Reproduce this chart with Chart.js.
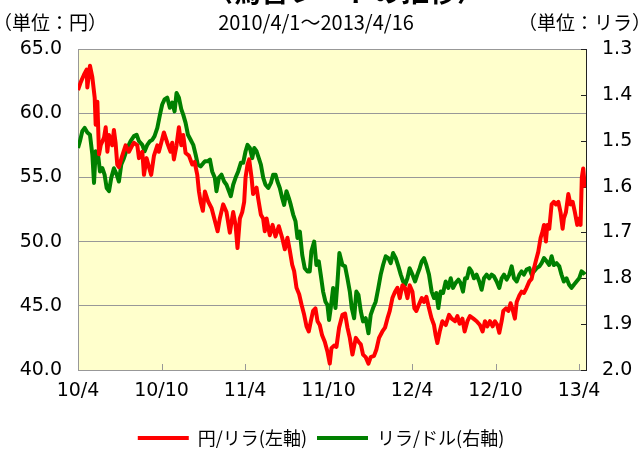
<!DOCTYPE html>
<html lang="ja">
<head>
<meta charset="utf-8">
<title>為替レートの推移</title>
<script src="https://cdn.jsdelivr.net/npm/chart.js@4.4.1/dist/chart.umd.min.js"></script>
<style>
  body { margin: 0; background: #fff; }
  #wrap { width: 642px; height: 450px; }
</style>
</head>
<body>
<div id="wrap"><canvas id="rateChart" width="642" height="450"></canvas></div>
<script>
// x values are months counted from 2010/4/1
const xTickMonths = [0, 6, 12, 18, 24, 30, 36];
const xTickLabels = ['10/4', '10/10', '11/4', '11/10', '12/4', '12/10', '13/4'];

// 円/リラ (left axis)
const yenMonths = [
  0.00, 0.19, 0.43, 0.62, 0.67, 0.86, 1.03, 1.20, 1.27, 1.39, 1.51, 1.63, 1.87, 1.99, 2.11, 2.23,
  2.46, 2.58, 2.70, 2.82, 2.94, 3.18, 3.42, 3.66, 3.90, 4.02, 4.26, 4.38, 4.62, 4.74, 4.93, 5.10,
  5.26, 5.46, 5.70, 5.81, 5.98, 6.17, 6.41, 6.65, 6.77, 6.89, 7.08, 7.25, 7.42, 7.56, 7.73, 7.97,
  8.21, 8.38, 8.57, 8.69, 8.81, 8.97, 9.12, 9.36, 9.60, 10.03, 10.19, 10.43, 10.67, 10.91, 11.15, 11.32,
  11.46, 11.63, 11.80, 11.94, 12.04, 12.18, 12.30, 12.47, 12.58, 12.83, 12.94, 13.14, 13.30, 13.42, 13.55, 13.78,
  13.98, 14.19, 14.43, 14.67, 14.86, 15.05, 15.22, 15.39, 15.53, 15.70, 15.89, 16.06, 16.25, 16.42, 16.58, 16.73,
  16.89, 17.06, 17.21, 17.37, 17.54, 17.73, 17.93, 18.09, 18.21, 18.40, 18.57, 18.76, 19.00, 19.19, 19.36, 19.53,
  19.72, 19.96, 20.15, 20.32, 20.48, 20.67, 20.87, 21.03, 21.27, 21.44, 21.63, 21.87, 22.06, 22.23, 22.40, 22.59,
  22.78, 22.95, 23.12, 23.31, 23.50, 23.67, 23.83, 24.03, 24.17, 24.31, 24.50, 24.70, 24.86, 25.03, 25.22, 25.41,
  25.58, 25.70, 25.82, 25.99, 26.18, 26.42, 26.66, 26.85, 27.09, 27.26, 27.42, 27.62, 27.78, 27.98, 28.16, 28.41,
  28.64, 28.88, 29.07, 29.24, 29.41, 29.60, 29.79, 29.96, 30.13, 30.27, 30.44, 30.56, 30.75, 30.92, 31.08, 31.23,
  31.39, 31.52, 31.71, 31.87, 32.04, 32.23, 32.43, 32.59, 32.71, 32.90, 33.07, 33.24, 33.38, 33.48, 33.62, 33.72,
  33.86, 34.03, 34.19, 34.34, 34.51, 34.67, 34.82, 34.91, 35.06, 35.23, 35.39, 35.54, 35.70, 35.87, 36.01, 36.11,
  36.20, 36.30, 36.42
];
const yenValues = [
  61.8, 62.4, 63.0, 63.4, 62.0, 63.7, 62.8, 61.2, 59.1, 60.9, 56.8, 57.5, 58.1, 58.9, 57.0, 58.3,
  57.5, 58.7, 57.7, 56.0, 55.8, 56.7, 57.5, 57.0, 57.5, 57.7, 57.5, 56.5, 57.0, 55.2, 56.5, 55.8,
  55.2, 56.7, 57.5, 57.0, 57.7, 58.5, 57.7, 57.0, 57.7, 56.4, 57.5, 58.9, 57.5, 58.3, 56.9, 56.7,
  56.0, 56.2, 55.2, 53.9, 53.1, 52.4, 53.9, 53.1, 52.6, 50.8, 51.8, 52.9, 52.3, 50.7, 52.3, 51.3,
  49.5, 51.8, 52.3, 53.1, 55.0, 56.0, 56.4, 55.0, 53.7, 54.2, 53.4, 52.1, 51.8, 50.8, 51.8, 50.5,
  51.3, 50.4, 51.2, 50.3, 49.4, 50.3, 49.3, 48.2, 47.7, 46.4, 45.9, 45.1, 44.3, 43.4, 43.0, 43.8,
  44.6, 44.8, 43.8, 43.5, 42.7, 42.2, 41.4, 40.5, 41.7, 41.9, 41.8, 43.3, 44.3, 44.4, 43.3, 42.5,
  41.2, 42.5, 42.2, 42.0, 41.2, 41.0, 40.5, 41.0, 41.1, 41.6, 42.5, 43.0, 43.3, 44.0, 44.6, 45.6,
  46.1, 46.4, 45.6, 46.6, 46.4, 45.6, 46.6, 46.1, 44.8, 44.6, 45.1, 45.6, 45.3, 45.7, 44.8, 44.0,
  43.5, 42.7, 42.1, 43.0, 43.8, 43.5, 44.3, 44.0, 43.8, 44.2, 43.6, 44.0, 43.0, 43.8, 44.2, 44.0,
  43.8, 43.5, 43.0, 43.8, 43.4, 43.8, 43.4, 43.8, 43.5, 42.9, 43.8, 44.6, 44.8, 44.6, 45.2, 44.7,
  44.0, 45.3, 45.8, 46.1, 46.0, 46.4, 46.9, 47.1, 47.7, 48.5, 49.2, 50.3, 50.8, 51.3, 50.0, 51.3,
  51.0, 52.9, 53.1, 52.9, 53.1, 52.3, 51.0, 51.8, 52.3, 53.7, 52.9, 53.1, 52.3, 51.3, 51.8, 51.3,
  55.0, 55.7, 54.2
];

// リラ/ドル (right axis, reversed)
const liraMonths = [
  0.00, 0.14, 0.31, 0.48, 0.67, 0.86, 1.03, 1.15, 1.27, 1.44, 1.58, 1.75, 1.91, 2.06, 2.23, 2.39,
  2.58, 2.78, 2.94, 3.11, 3.30, 3.54, 3.78, 4.02, 4.21, 4.38, 4.62, 4.79, 4.98, 5.17, 5.34, 5.50,
  5.70, 5.89, 6.05, 6.22, 6.41, 6.60, 6.77, 6.94, 7.08, 7.25, 7.42, 7.56, 7.73, 7.90, 8.09, 8.28,
  8.45, 8.61, 8.81, 9.00, 9.12, 9.31, 9.48, 9.64, 9.83, 9.95, 10.12, 10.31, 10.50, 10.67, 10.84, 10.98,
  11.15, 11.32, 11.51, 11.70, 11.87, 12.04, 12.18, 12.35, 12.52, 12.66, 12.83, 12.99, 13.14, 13.31, 13.47, 13.67,
  13.86, 14.02, 14.19, 14.33, 14.50, 14.67, 14.81, 14.98, 15.15, 15.29, 15.46, 15.63, 15.77, 15.94, 16.11, 16.29,
  16.49, 16.65, 16.77, 16.97, 17.13, 17.30, 17.44, 17.61, 17.78, 17.92, 18.04, 18.16, 18.33, 18.50, 18.64, 18.78,
  19.00, 19.19, 19.36, 19.53, 19.67, 19.84, 20.00, 20.15, 20.32, 20.48, 20.67, 20.87, 21.03, 21.20, 21.39, 21.58,
  21.75, 21.92, 22.11, 22.30, 22.47, 22.64, 22.83, 23.02, 23.19, 23.36, 23.50, 23.67, 23.83, 24.03, 24.22, 24.38,
  24.55, 24.70, 24.86, 25.03, 25.22, 25.41, 25.58, 25.75, 25.89, 26.06, 26.23, 26.42, 26.61, 26.78, 26.95, 27.14,
  27.33, 27.49, 27.66, 27.81, 27.95, 28.12, 28.28, 28.45, 28.64, 28.83, 29.00, 29.17, 29.36, 29.55, 29.72, 29.89,
  30.08, 30.27, 30.44, 30.61, 30.80, 30.99, 31.16, 31.33, 31.52, 31.71, 31.87, 32.04, 32.23, 32.43, 32.59, 32.76,
  32.95, 33.15, 33.31, 33.48, 33.67, 33.86, 34.03, 34.19, 34.39, 34.58, 34.74, 34.91, 35.10, 35.29, 35.46, 35.63,
  35.82, 36.01, 36.18, 36.35, 36.42
];
const liraValues = [
  1.516, 1.501, 1.479, 1.472, 1.482, 1.487, 1.530, 1.592, 1.523, 1.530, 1.567, 1.560, 1.574, 1.603, 1.610, 1.581,
  1.560, 1.574, 1.589, 1.552, 1.538, 1.516, 1.501, 1.490, 1.487, 1.501, 1.509, 1.523, 1.509, 1.501, 1.498, 1.490,
  1.472, 1.443, 1.421, 1.410, 1.406, 1.428, 1.417, 1.436, 1.396, 1.406, 1.431, 1.443, 1.461, 1.487, 1.498, 1.509,
  1.530, 1.552, 1.556, 1.549, 1.545, 1.545, 1.541, 1.567, 1.581, 1.610, 1.581, 1.574, 1.589, 1.596, 1.610, 1.621,
  1.596, 1.581, 1.567, 1.548, 1.548, 1.523, 1.509, 1.516, 1.538, 1.516, 1.523, 1.538, 1.552, 1.581, 1.596, 1.603,
  1.592, 1.574, 1.574, 1.589, 1.603, 1.625, 1.640, 1.610, 1.625, 1.640, 1.661, 1.676, 1.712, 1.698, 1.749, 1.778,
  1.785, 1.785, 1.741, 1.720, 1.771, 1.763, 1.792, 1.829, 1.851, 1.858, 1.891, 1.865, 1.821, 1.865, 1.810, 1.745,
  1.771, 1.774, 1.800, 1.829, 1.865, 1.887, 1.829, 1.836, 1.872, 1.894, 1.887, 1.920, 1.880, 1.865, 1.851, 1.821,
  1.792, 1.771, 1.752, 1.756, 1.767, 1.745, 1.756, 1.774, 1.792, 1.807, 1.814, 1.800, 1.778, 1.792, 1.807, 1.792,
  1.778, 1.763, 1.756, 1.771, 1.792, 1.829, 1.843, 1.832, 1.865, 1.829, 1.832, 1.807, 1.821, 1.800, 1.821, 1.810,
  1.803, 1.810, 1.829, 1.800, 1.800, 1.778, 1.785, 1.800, 1.792, 1.807, 1.825, 1.800, 1.792, 1.800, 1.792, 1.796,
  1.807, 1.821, 1.800, 1.792, 1.803, 1.792, 1.774, 1.800, 1.807, 1.792, 1.785, 1.792, 1.781, 1.778, 1.792, 1.785,
  1.778, 1.774, 1.767, 1.756, 1.763, 1.771, 1.752, 1.771, 1.767, 1.774, 1.792, 1.807, 1.800, 1.814, 1.821, 1.814,
  1.807, 1.800, 1.785, 1.789, 1.792
];

const toPoints = (xs, ys) => xs.map((x, i) => ({ x: x, y: ys[i] }));

const tickFont = { family: '"DejaVu Sans", Verdana, sans-serif', size: 19 };
const jpFont = '"Noto Sans CJK JP", "Noto Sans", sans-serif';

// background, inside tick marks and header texts
const decorPlugin = {
  id: 'decor',
  beforeDraw(chart) {
    const { ctx, chartArea: a } = chart;
    ctx.save();
    ctx.fillStyle = '#ffffcc';
    ctx.fillRect(a.left, a.top, a.right - a.left, a.bottom - a.top);
    ctx.restore();
  },
  beforeDatasetsDraw(chart) {
    const { ctx, chartArea: a, scales } = chart;
    ctx.save();
    ctx.lineWidth = 1;
    // x ticks pointing up from the bottom
    ctx.strokeStyle = '#989898';
    xTickMonths.forEach(m => {
      const px = Math.round(scales.x.getPixelForValue(m)) + 0.5;
      ctx.beginPath();
      ctx.moveTo(px, a.bottom);
      ctx.lineTo(px, a.bottom - 6);
      ctx.stroke();
    });
    // right axis ticks pointing into the plot
    ctx.strokeStyle = '#222';
    scales.y1.ticks.forEach(t => {
      const py = Math.round(scales.y1.getPixelForValue(t.value)) + 0.5;
      ctx.beginPath();
      ctx.moveTo(a.right, py);
      ctx.lineTo(a.right - 5, py);
      ctx.stroke();
    });
    ctx.restore();
  },
  afterDraw(chart) {
    const { ctx } = chart;
    ctx.save();
    ctx.fillStyle = '#000';
    ctx.textBaseline = 'alphabetic';
    ctx.font = 'bold 28px ' + jpFont;
    ctx.textAlign = 'center';
    ctx.fillText('〈為替レートの推移〉', 345, 2);
    ctx.font = '20px ' + jpFont;
    ctx.fillText('2010/4/1〜2013/4/16', 316, 30);
    ctx.font = '19px ' + jpFont;
    ctx.textAlign = 'left';
    ctx.fillText('（単位：円）', -7, 30);
    ctx.textAlign = 'right';
    ctx.fillText('（単位：リラ）', 651, 30);
    ctx.restore();
  }
};

const ctx = document.getElementById('rateChart').getContext('2d');
new Chart(ctx, {
  type: 'line',
  data: {
    datasets: [{
      label: '円/リラ(左軸)',
      data: toPoints(yenMonths, yenValues),
      yAxisID: 'y',
      borderColor: '#ff0000',
      backgroundColor: '#ff0000',
      borderWidth: 4,
      pointRadius: 0,
      tension: 0,
      borderJoinStyle: 'round'
    }, {
      label: 'リラ/ドル(右軸)',
      data: toPoints(liraMonths, liraValues),
      yAxisID: 'y1',
      borderColor: '#008000',
      backgroundColor: '#008000',
      borderWidth: 4,
      pointRadius: 0,
      tension: 0,
      borderJoinStyle: 'round'
    }]
  },
  options: {
    responsive: false,
    animation: false,
    layout: { padding: { top: 49, left: 0, right: 0, bottom: -7 } },
    plugins: {
      title: { display: false },
      tooltip: { enabled: false },
      legend: {
        position: 'bottom',
        labels: {
          color: '#000',
          font: { family: jpFont, size: 18 },
          boxWidth: 51,
          boxHeight: 4,
          padding: 10,
          generateLabels(chart) {
            return Chart.defaults.plugins.legend.labels.generateLabels(chart)
              .map(l => Object.assign(l, { lineWidth: 0 }));
          }
        }
      }
    },
    scales: {
      x: {
        type: 'linear',
        min: 0,
        max: 36.5,
        afterFit(scale) { scale.height = 49; },
        afterBuildTicks(scale) { scale.ticks = xTickMonths.map(v => ({ value: v })); },
        grid: { display: false, drawTicks: false },
        border: { color: '#989898' },
        ticks: {
          color: '#000',
          font: tickFont,
          padding: 10,
          maxRotation: 0,
          autoSkip: false,
          callback: v => xTickLabels[xTickMonths.indexOf(v)]
        }
      },
      y: {
        position: 'left',
        min: 40,
        max: 65,
        afterFit(scale) { scale.width = 78; },
        grid: { color: '#989898', drawTicks: false },
        border: { color: '#989898' },
        ticks: {
          stepSize: 5,
          color: '#000',
          font: tickFont,
          padding: 16,
          callback: v => v.toFixed(1)
        }
      },
      y1: {
        position: 'right',
        reverse: true,
        min: 1.3,
        max: 2.0,
        afterFit(scale) { scale.width = 56; },
        grid: { display: false, drawTicks: false },
        border: { color: '#222' },
        ticks: {
          stepSize: 0.1,
          color: '#000',
          font: tickFont,
          padding: 16,
          callback: v => v.toFixed(1)
        }
      }
    }
  },
  plugins: [decorPlugin]
});
</script>
</body>
</html>
